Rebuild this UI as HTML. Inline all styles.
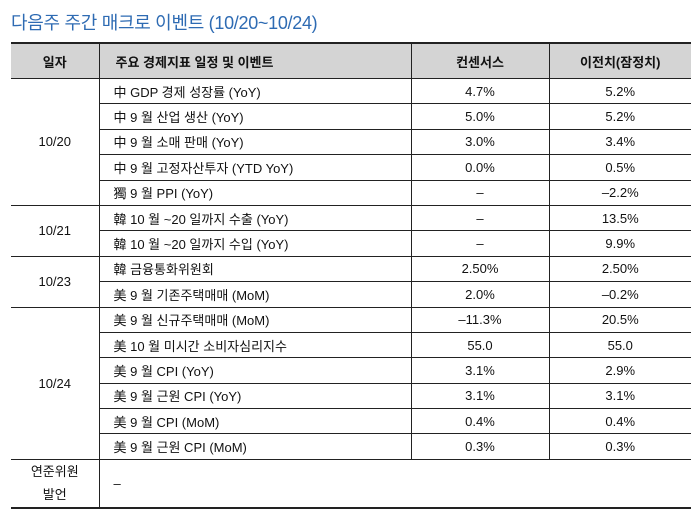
<!DOCTYPE html>
<html><head><meta charset="utf-8"><style>
body{margin:0;background:#fff;width:700px;height:514px;overflow:hidden;font-family:"Liberation Sans","Noto Sans CJK KR",sans-serif;}
.t{position:absolute;left:11px;top:9px;font-size:18px;color:#2e6bb3;letter-spacing:-0.3px;}
table{position:absolute;left:11px;top:42px;border-collapse:collapse;table-layout:fixed;width:680px;font-size:13px;color:#111;}
td,th{border-top:1px solid #222;border-bottom:1px solid #222;padding:0;height:24.4px;}
th{background:#d4d4d4;height:34px;font-weight:bold;border-top:2px solid #222;}
td.c,th.c{text-align:center}
td.l{padding-left:14px}
th.l{text-align:left;padding-left:16px}
.v{border-left:1px solid #222}
tr.last td{border-bottom:2px solid #222;height:47px}
</style></head><body>
<div class="t">다음주 주간 매크로 이벤트 (10/20~10/24)</div>
<table>
<colgroup><col style="width:88px"><col style="width:312px"><col style="width:138px"><col style="width:142px"></colgroup>
<tr><th class="c">일자</th><th class="l v">주요 경제지표 일정 및 이벤트</th><th class="c v">컨센서스</th><th class="c v">이전치(잠정치)</th></tr>
<tr><td class="c" rowspan="5">10/20</td><td class="l v">中 GDP 경제 성장률 (YoY)</td><td class="c v">4.7%</td><td class="c v">5.2%</td></tr>
<tr><td class="l v">中 9 월 산업 생산 (YoY)</td><td class="c v">5.0%</td><td class="c v">5.2%</td></tr>
<tr><td class="l v">中 9 월 소매 판매 (YoY)</td><td class="c v">3.0%</td><td class="c v">3.4%</td></tr>
<tr><td class="l v">中 9 월 고정자산투자 (YTD YoY)</td><td class="c v">0.0%</td><td class="c v">0.5%</td></tr>
<tr><td class="l v">獨 9 월 PPI (YoY)</td><td class="c v">–</td><td class="c v">–2.2%</td></tr>
<tr><td class="c" rowspan="2">10/21</td><td class="l v">韓 10 월 ~20 일까지 수출 (YoY)</td><td class="c v">–</td><td class="c v">13.5%</td></tr>
<tr><td class="l v">韓 10 월 ~20 일까지 수입 (YoY)</td><td class="c v">–</td><td class="c v">9.9%</td></tr>
<tr><td class="c" rowspan="2">10/23</td><td class="l v">韓 금융통화위원회</td><td class="c v">2.50%</td><td class="c v">2.50%</td></tr>
<tr><td class="l v">美 9 월 기존주택매매 (MoM)</td><td class="c v">2.0%</td><td class="c v">–0.2%</td></tr>
<tr><td class="c" rowspan="6">10/24</td><td class="l v">美 9 월 신규주택매매 (MoM)</td><td class="c v">–11.3%</td><td class="c v">20.5%</td></tr>
<tr><td class="l v">美 10 월 미시간 소비자심리지수</td><td class="c v">55.0</td><td class="c v">55.0</td></tr>
<tr><td class="l v">美 9 월 CPI (YoY)</td><td class="c v">3.1%</td><td class="c v">2.9%</td></tr>
<tr><td class="l v">美 9 월 근원 CPI (YoY)</td><td class="c v">3.1%</td><td class="c v">3.1%</td></tr>
<tr><td class="l v">美 9 월 CPI (MoM)</td><td class="c v">0.4%</td><td class="c v">0.4%</td></tr>
<tr><td class="l v">美 9 월 근원 CPI (MoM)</td><td class="c v">0.3%</td><td class="c v">0.3%</td></tr>
<tr class="last"><td class="c" style="line-height:23px">연준위원<br>발언</td><td class="l v" colspan="3">–</td></tr>
</table>
</body></html>
